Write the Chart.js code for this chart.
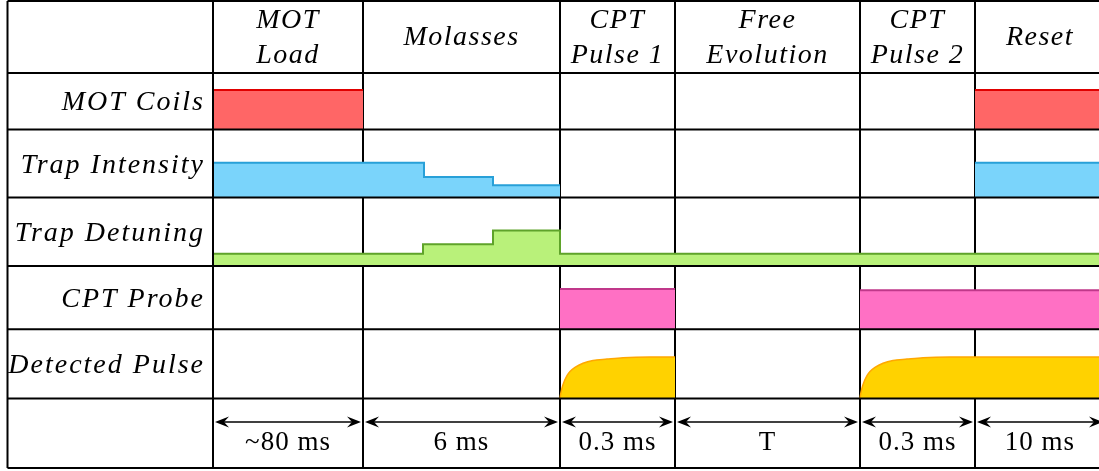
<!DOCTYPE html>
<html>
<head>
<meta charset="utf-8">
<script src="https://cdn.jsdelivr.net/npm/chart.js@4/dist/chart.umd.min.js"></script>
<style>
    html, body { margin: 0; padding: 0; background: #fff; }
    canvas { display: block; }
</style>
</head>
<body>
<canvas id="timing-chart" width="1099" height="471"></canvas>
<script>
// Phases of the sequence (schematic time axis, not to scale)
const phaseNames = [['MOT', 'Load'], ['Molasses'], ['CPT', 'Pulse 1'], ['Free', 'Evolution'], ['CPT', 'Pulse 2'], ['Reset']];
const phaseEdges = [0, 150, 347, 462, 647, 762, 892];
const phaseDurations = ['~80 ms', '6 ms', '0.3 ms', 'T', '0.3 ms', '10 ms'];

// Channels, top to bottom
const channelNames = ['MOT Coils', 'Trap Intensity', 'Trap Detuning', 'CPT Probe', 'Detected Pulse'];

// Levels are relative to the row height (0 = off); each level holds until the next time
const coilsT = [0, 150, 150, 762, 892];
const coilsV = [0.70, 0.70, null, 0.70, 0.70];

const intensityT = [0, 211, 280, 347, 347, 762, 892];
const intensityV = [0.51, 0.30, 0.18, 0.18, null, 0.51, 0.51];

const detuningT = [0, 210, 280, 347, 892];
const detuningV = [0.18, 0.32, 0.52, 0.18, 0.18];

const probeT = [347, 462, 462, 647, 892];
const probeV = [0.64, 0.64, null, 0.62, 0.62];

// Detected pulse shape (time after the probe turns on)
const detectT = [0, 1, 3, 7, 10, 15, 23, 33, 47, 63, 90];
const detectV = [0, 0.09, 0.20, 0.33, 0.39, 0.45, 0.51, 0.55, 0.57, 0.59, 0.60];
const detectStarts = [347, 647];
const detectEnds = [462, 892];

document.addEventListener('DOMContentLoaded', function() {
    const ctx = document.getElementById('timing-chart').getContext('2d');

    const FONT_ITALIC = 'italic 28px "Liberation Serif"';
    const FONT_ROMAN = '27px "Liberation Serif"';
    const rowAxes = ['yCoils', 'yIntensity', 'yDetuning', 'yProbe', 'yDetect'];

    function toPoints(ts, vs) {
        return ts.map((t, i) => ({ x: t, y: vs[i] }));
    }

    function pulsePoints(start, end) {
        const pts = detectT.map((t, i) => ({ x: start + t, y: detectV[i] }));
        pts.push({ x: end, y: detectV[detectV.length - 1] });
        return pts;
    }

    // Arrow head pointing left (dir = -1) or right (dir = 1)
    function arrowHead(c, x, y, dir) {
        c.beginPath();
        c.moveTo(x, y);
        c.lineTo(x - dir * 14, y - 5.5);
        c.lineTo(x - dir * 9, y);
        c.lineTo(x - dir * 14, y + 5.5);
        c.closePath();
        c.fill();
    }

    const tableLeft = 7.5;
    const tableTop = 1;
    const tableBottom = 468;

    // Table lines and texts around the plot
    const tablePlugin = {
        id: 'tablePlugin',
        beforeDatasetsDraw(chart) {
            const c = chart.ctx;
            const xs = chart.scales.x;
            c.save();
            c.strokeStyle = '#000';
            c.lineWidth = 2;
            for (let i = 1; i < phaseEdges.length; i++) {
                const px = xs.getPixelForValue(phaseEdges[i]);
                if (px > chart.width) continue;
                c.beginPath();
                c.moveTo(px, tableTop);
                c.lineTo(px, tableBottom);
                c.stroke();
            }
            c.restore();
        },
        afterDatasetsDraw(chart) {
            const c = chart.ctx;
            const xs = chart.scales.x;
            const area = chart.chartArea;
            c.save();
            c.strokeStyle = '#000';
            c.lineWidth = 2;

            // horizontal lines
            const ys = [tableTop, area.top, tableBottom];
            rowAxes.forEach(id => ys.push(chart.scales[id].bottom));
            ys.forEach(y => {
                c.beginPath();
                c.moveTo(tableLeft, y);
                c.lineTo(chart.width, y);
                c.stroke();
            });

            // left border and first column line
            [tableLeft, xs.getPixelForValue(phaseEdges[0])].forEach(px => {
                c.beginPath();
                c.moveTo(px, tableTop);
                c.lineTo(px, tableBottom);
                c.stroke();
            });

            c.fillStyle = '#000';
            c.textAlign = 'center';
            c.textBaseline = 'alphabetic';

            // header
            c.font = FONT_ITALIC;
            c.letterSpacing = '1.5px';
            phaseNames.forEach((lines, i) => {
                const cx = (xs.getPixelForValue(phaseEdges[i]) + xs.getPixelForValue(phaseEdges[i + 1])) / 2;
                if (lines.length === 2) {
                    c.fillText(lines[0], cx, 28);
                    c.fillText(lines[1], cx, 63);
                } else {
                    c.fillText(lines[0], cx, 45);
                }
            });

            // channel labels
            c.textAlign = 'right';
            c.letterSpacing = '2px';
            channelNames.forEach((name, i) => {
                const s = chart.scales[rowAxes[i]];
                c.fillText(name, area.left - 8, (s.top + s.bottom) / 2 + 9);
            });

            // durations with arrows
            const arrowY = 422;
            c.lineWidth = 1.6;
            c.textAlign = 'center';
            c.font = FONT_ROMAN;
            c.letterSpacing = '1px';
            phaseDurations.forEach((label, i) => {
                const x0 = xs.getPixelForValue(phaseEdges[i]) + 2;
                const x1 = xs.getPixelForValue(phaseEdges[i + 1]) - 2;
                c.beginPath();
                c.moveTo(x0 + 4, arrowY);
                c.lineTo(x1 - 4, arrowY);
                c.stroke();
                arrowHead(c, x0, arrowY, -1);
                arrowHead(c, x1, arrowY, 1);
                c.fillText(label, (x0 + x1) / 2, 450);
            });
            c.restore();
        }
    };

    const datasets = [
        { label: channelNames[0], yAxisID: 'yCoils', data: toPoints(coilsT, coilsV),
          borderColor: '#e00000', backgroundColor: '#ff6666' },
        { label: channelNames[1], yAxisID: 'yIntensity', data: toPoints(intensityT, intensityV), stepped: 'before',
          borderColor: '#28a0d8', backgroundColor: '#7ad4fb' },
        { label: channelNames[2], yAxisID: 'yDetuning', data: toPoints(detuningT, detuningV), stepped: 'before',
          borderColor: '#5fa32a', backgroundColor: '#b9f17a' },
        { label: channelNames[3], yAxisID: 'yProbe', data: toPoints(probeT, probeV),
          borderColor: '#c0388a', backgroundColor: '#ff70c4' }
    ];
    detectStarts.forEach((start, i) => {
        datasets.push({ label: channelNames[4], yAxisID: 'yDetect', data: pulsePoints(start, detectEnds[i]),
            cubicInterpolationMode: 'monotone', borderColor: '#ffa800', backgroundColor: '#ffd200', borderWidth: 1.5 });
    });
    datasets.forEach(ds => {
        ds.fill = 'origin';
        ds.pointRadius = 0;
        ds.spanGaps = false;
        if (!ds.borderWidth) ds.borderWidth = 2;
    });

    function rowAxis(weight) {
        return { type: 'linear', min: 0, max: 1, display: false, stack: 'rows', stackWeight: weight };
    }

    function buildChart() {
        new Chart(ctx, {
            type: 'line',
            data: { datasets: datasets },
            options: {
                responsive: false,
                animation: false,
                devicePixelRatio: 1,
                events: [],
                layout: { padding: { left: 213, top: 73, right: 0, bottom: 72.5 } },
                plugins: { legend: { display: false }, tooltip: { enabled: false } },
                scales: {
                    x: { type: 'linear', min: 0, max: 886, display: false },
                    // defined bottom row first: later stacked axes are placed higher
                    yDetect: rowAxis(69.2),
                    yProbe: rowAxis(63.3),
                    yDetuning: rowAxis(68.7),
                    yIntensity: rowAxis(68),
                    yCoils: rowAxis(56.6)
                }
            },
            plugins: [tablePlugin]
        });
    }

    // Wait for the serif fonts before drawing on the canvas
    Promise.all([document.fonts.load(FONT_ITALIC), document.fonts.load(FONT_ROMAN)])
        .then(buildChart, buildChart);
});
</script>
</body>
</html>
